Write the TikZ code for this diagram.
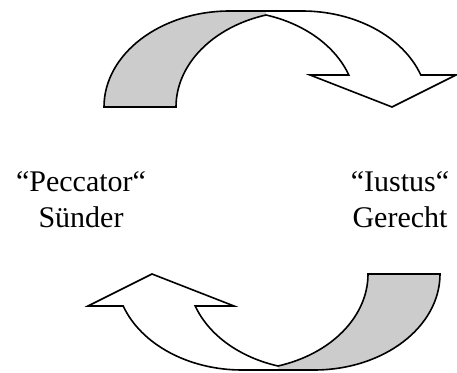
\documentclass[tikz,border=0pt]{standalone}
\usepackage{fontspec}
\setmainfont{Liberation Serif}
\begin{document}
\begin{tikzpicture}[x=1pt, y=1pt]
    \tikzstyle{backside} = [fill=black!20]
    \tikzstyle{frontside} = [fill=white]
    \tikzstyle{rim} = [draw=black, line width=1.6pt, line join=miter]
    \tikzstyle{word} = [anchor=base, inner sep=0pt, font=\fontsize{30}{36}\selectfont]

    \useasboundingbox (0,0) rectangle (457,372);

    % two bent arrows, the lower one is the upper one turned round
    \foreach \turn in {0,180} {
      \begin{scope}[rotate around={\turn:(272,181.5)}]
        \fill [backside] (104,265) arc[start angle=180, end angle=90, x radius=126, y radius=96]
          -- (266,361) -- (266,357)
          arc[start angle=106.6, end angle=180, x radius=126, y radius=96] -- cycle;
        \fill [frontside] (266,361) -- (302,361)
          arc[start angle=90, end angle=19.47, x radius=126, y radius=96]
          -- (456,297) -- (392,265) -- (310,297) -- (348.8,297)
          arc[start angle=19.47, end angle=73.4, x radius=126, y radius=96] -- cycle;
        % outline of the whole band
        \draw [rim] (104,265) arc[start angle=180, end angle=90, x radius=126, y radius=96]
          -- (302,361) arc[start angle=90, end angle=19.47, x radius=126, y radius=96]
          -- (456,297) -- (392,265) -- (310,297) -- (348.8,297)
          arc[start angle=19.47, end angle=73.4, x radius=126, y radius=96]
          arc[start angle=106.6, end angle=180, x radius=126, y radius=96] -- cycle;
      \end{scope}
    }

    \node (peccator) [word] at (81,180.3) {“Peccator“};
    \node (suender) [word] at (81,144) {Sünder};
    \node (iustus) [word] at (400,180.3) {“Iustus“};
    \node (gerecht) [word] at (400,144) {Gerecht};
\end{tikzpicture}
\end{document}
